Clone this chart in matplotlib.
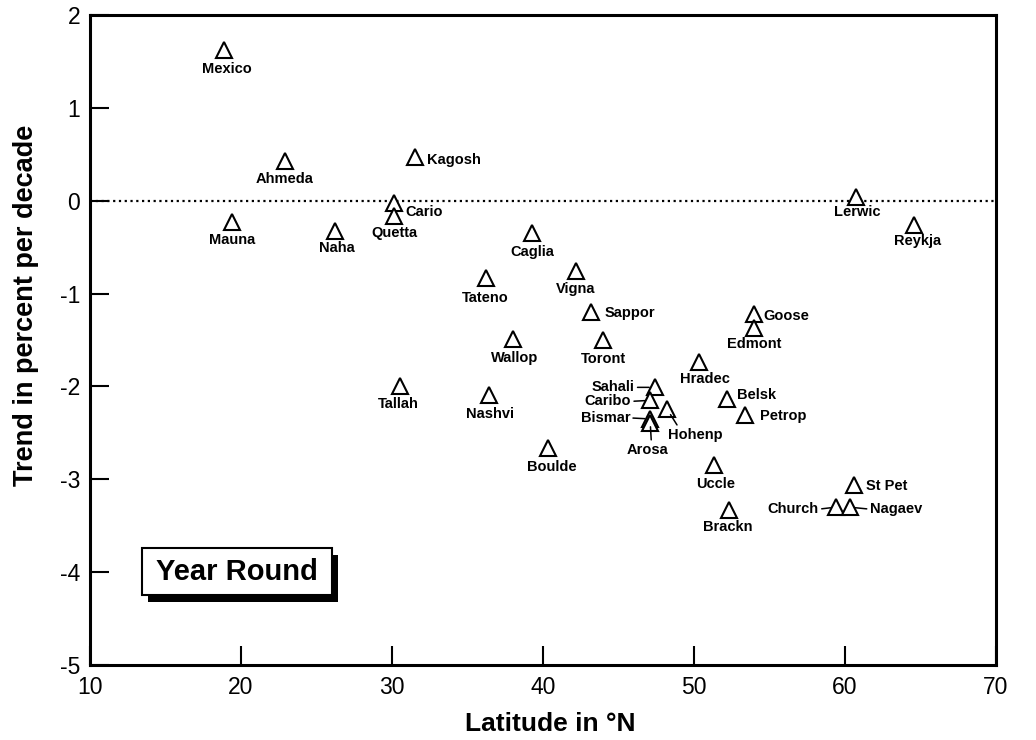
import matplotlib
matplotlib.use('Agg')
import matplotlib.pyplot as plt
from matplotlib.patches import Rectangle

plt.rcParams['font.family'] = ['Liberation Sans', 'DejaVu Sans']

# ---------------- data ----------------
stations = ['Mexico', 'Ahmeda', 'Kagosh', 'Cario', 'Quetta', 'Mauna', 'Naha',
            'Caglia', 'Tateno', 'Vigna', 'Sappor', 'Wallop', 'Toront', 'Goose',
            'Edmont', 'Hradec', 'Belsk', 'Petrop', 'Nashvi', 'Tallah', 'Boulde',
            'Uccle', 'Brackn', 'St Pet', 'Church', 'Nagaev', 'Lerwic', 'Reykja',
            'Sahali', 'Caribo', 'Bismar', 'Arosa', 'Hohenp']
latitude = [18.9, 22.9, 31.5, 30.1, 30.1, 19.4, 26.2,
            39.3, 36.2, 42.2, 43.2, 38.0, 44.0, 54.0,
            54.0, 50.3, 52.2, 53.4, 36.4, 30.5, 40.3,
            51.3, 52.3, 60.6, 59.4, 60.3, 60.7, 64.6,
            47.4, 47.1, 47.1, 47.1, 48.2]
trend = [1.62, 0.43, 0.47, -0.02, -0.16, -0.23, -0.33,
         -0.35, -0.83, -0.76, -1.20, -1.49, -1.50, -1.22,
         -1.37, -1.74, -2.14, -2.31, -2.09, -2.00, -2.66,
         -2.85, -3.33, -3.06, -3.30, -3.30, 0.04, -0.26,
         -2.01, -2.15, -2.35, -2.39, -2.24]

xticks = [10, 20, 30, 40, 50, 60, 70]
yticks = [-5, -4, -3, -2, -1, 0, 1, 2]

# label placement (layout only): offset in pixels (dx, dy up), ha, leader, relpos, shrinkB
layout = {
    'Mexico': (2, -19, 'center', False),
    'Ahmeda': (0, -18, 'center', False),
    'Kagosh': (12, -3, 'left', False),
    'Cario': (12, -9, 'left', False),
    'Quetta': (1, -17, 'center', False),
    'Mauna': (0, -18, 'center', False),
    'Naha': (2, -17, 'center', False),
    'Caglia': (0, -19, 'center', False),
    'Tateno': (0, -20, 'center', False),
    'Vigna': (-1, -18, 'center', False),
    'Sappor': (13, -1, 'left', False),
    'Wallop': (2, -19, 'center', False),
    'Toront': (0, -19, 'center', False),
    'Goose': (9, -2, 'left', False),
    'Edmont': (0, -16, 'center', False),
    'Hradec': (6, -17, 'center', False),
    'Belsk': (10, 4, 'left', False),
    'Petrop': (15, -1, 'left', False),
    'Nashvi': (1, -19, 'center', False),
    'Tallah': (-1, -18, 'center', False),
    'Boulde': (4, -19, 'center', False),
    'Uccle': (2, -19, 'center', False),
    'Brackn': (-1, -17, 'center', False),
    'St Pet': (12, -1, 'left', False),
    'Church': (-17, -2, 'right', True, (1, 0.5), 4),
    'Nagaev': (20, -2, 'left', True, (0, 0.5), 4),
    'Lerwic': (2, -15, 'center', False),
    'Reykja': (3, -16, 'center', False),
    'Sahali': (-20, 0, 'right', True, (1, 0.5), 4),
    'Caribo': (-19, -1, 'right', True, (1, 0.5), 4),
    'Bismar': (-20, 1, 'right', True, (1, 0.5), 4),
    'Arosa': (-3, -27, 'center', True, (0.6, 1.0), 3),
    'Hohenp': (1, -26, 'left', True, (0.2, 1.0), 5),
}

PT = 72.0 / 100.0  # pixels -> points at dpi 100

fig = plt.figure(figsize=(10.36, 7.40), dpi=100)
ax = fig.add_axes([90 / 1036, 75 / 740, 906 / 1036, 650 / 740])

ax.set_xlim(10, 70)
ax.set_ylim(-5, 2)

ax.axhline(0, color='black', lw=1.6, ls=(0, (1, 1.6)), zorder=1)

ax.plot(latitude, trend, linestyle='none', marker='^', markersize=11,
        markerfacecolor='white', markeredgecolor='black', markeredgewidth=1.5,
        zorder=3)

for name, x, y in zip(stations, latitude, trend):
    lay = layout[name]
    dx, dy, ha, leader = lay[0], lay[1], lay[2], lay[3]
    kw = dict(xy=(x, y), xytext=(dx * PT, dy * PT), textcoords='offset points',
              ha=ha, va='center', fontsize=10.5, fontweight='bold', zorder=4)
    if leader:
        relpos, shrinkb = lay[4], lay[5]
        kw['arrowprops'] = dict(arrowstyle='-', color='black', lw=1.1,
                                shrinkA=0, shrinkB=shrinkb, relpos=relpos)
    ax.annotate(name, **kw)

ax.set_xticks(xticks)
ax.set_yticks(yticks)
ax.set_xticklabels([str(t) for t in xticks])
ax.set_yticklabels([str(t) for t in yticks])
ax.tick_params(axis='both', direction='in', length=14, width=1.5,
               labelsize=16.5, top=False, right=False)
ax.tick_params(axis='x', pad=8)
ax.tick_params(axis='y', pad=7)

for side in ['left', 'bottom', 'top', 'right']:
    ax.spines[side].set_linewidth(2.2)

fig.text(550 / 1036, 1 - 724 / 740, 'Latitude in °N', ha='center', va='center',
         fontsize=19, fontweight='bold')
fig.text(26 / 1036, 1 - 305 / 740, 'Trend in percent per decade', ha='center',
         va='center', rotation=90, fontsize=19.5, fontweight='bold')

# "Year Round" box with shadow
bx0, bx1, by0, by1 = 142, 332, 548, 595
fig.add_artist(Rectangle(((bx0 + 6) / 1036, 1 - (by1 + 7) / 740),
                         (bx1 - bx0) / 1036, (by1 - by0) / 740,
                         transform=fig.transFigure, facecolor='black',
                         edgecolor='black', lw=0, zorder=5))
fig.add_artist(Rectangle((bx0 / 1036, 1 - by1 / 740),
                         (bx1 - bx0) / 1036, (by1 - by0) / 740,
                         transform=fig.transFigure, facecolor='white',
                         edgecolor='black', lw=1.5, zorder=6))
fig.text((bx0 + bx1) / 2 / 1036, 1 - 572 / 740, 'Year Round', ha='center',
         va='center', fontsize=21, fontweight='bold', zorder=7)

fig.savefig('out.png', dpi=100)
